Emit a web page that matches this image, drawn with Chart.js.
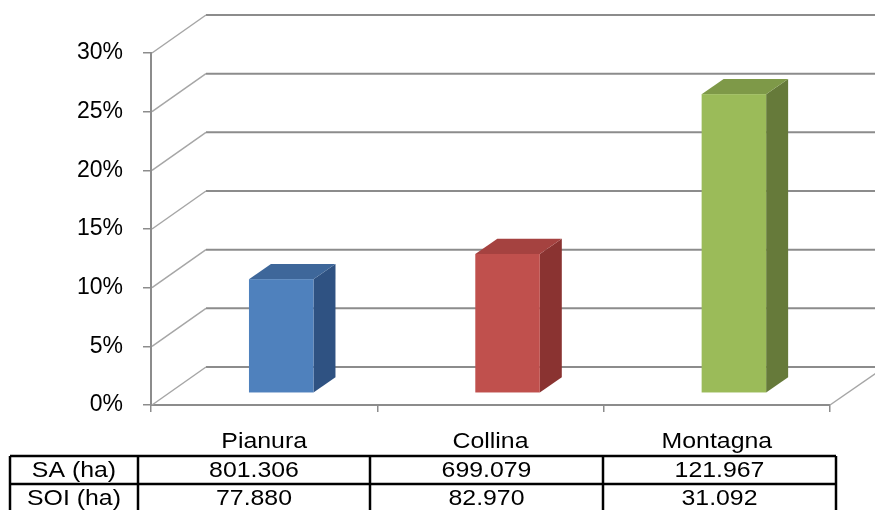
<!DOCTYPE html>
<html>
<head>
<meta charset="utf-8">
<script src="https://cdn.jsdelivr.net/npm/chart.js@4/dist/chart.umd.min.js"></script>
<style>
html,body{margin:0;padding:0;background:#fff;}
#wrap{width:875px;height:510px;position:relative;}
</style>
</head>
<body>
<div id="wrap"><canvas id="c" width="875" height="510"></canvas></div>
<script>
// ---- data ----
const categories = ['Pianura', 'Collina', 'Montagna'];
const percentValues = [9.72, 11.87, 25.49];
const saValues = ['801.306', '699.079', '121.967'];
const soiValues = ['77.880', '82.970', '31.092'];
const rowLabels = ['SA (ha)', 'SOI (ha)'];
const yTicks = [0, 5, 10, 15, 20, 25, 30];

const frontColors = ['#4F81BD', '#C0504D', '#9BBB59'];
const sideColors  = ['#2F5282', '#8A3331', '#667A3A'];
const topColors   = ['#3E679A', '#A54240', '#7E9948'];

const FONT = 'Arial, "Liberation Sans", sans-serif';
const GRID = '#8c8c8c';
// 3D projection (full depth of the walls, in pixels)
const DEPTH_X = 55, DEPTH_Y = -38;
const BAR_FRONT = 0.31, BAR_BACK = 0.71;
const TEXT_STRETCH = 1.13;

function stretchedText(ctx, text, cx, cy, sx) {
  ctx.save();
  ctx.translate(cx, cy);
  ctx.scale(sx, 1);
  ctx.fillText(text, 0, 0);
  ctx.restore();
}

const threeD = {
  id: 'threeD',
  beforeDatasetsDraw(chart) {
    const ctx = chart.ctx, y = chart.scales.y;
    const L = chart.chartArea.left, R = chart.chartArea.right;
    ctx.save();
    // back wall gridlines
    ctx.strokeStyle = GRID; ctx.lineWidth = 2;
    yTicks.forEach(v => {
      const py = y.getPixelForValue(v);
      ctx.beginPath();
      ctx.moveTo(L + DEPTH_X, py + DEPTH_Y);
      ctx.lineTo(R + DEPTH_X, py + DEPTH_Y);
      ctx.stroke();
    });
    // side wall diagonals
    ctx.strokeStyle = '#a6a6a6'; ctx.lineWidth = 1.5;
    yTicks.forEach(v => {
      const py = y.getPixelForValue(v);
      ctx.beginPath();
      ctx.moveTo(L + 1, py);
      ctx.lineTo(L + DEPTH_X, py + DEPTH_Y);
      ctx.stroke();
    });
    // right floor edge
    const p0 = y.getPixelForValue(0);
    ctx.beginPath();
    ctx.moveTo(R, p0);
    ctx.lineTo(R + DEPTH_X, p0 + DEPTH_Y);
    ctx.stroke();
    ctx.restore();
  },
  afterDatasetsDraw(chart) {
    const ctx = chart.ctx;
    const meta = chart.getDatasetMeta(0);
    const fx = DEPTH_X * BAR_FRONT, fy = DEPTH_Y * BAR_FRONT;
    const dx = DEPTH_X * (BAR_BACK - BAR_FRONT), dy = DEPTH_Y * (BAR_BACK - BAR_FRONT);
    ctx.save();
    meta.data.forEach((el, i) => {
      const p = el.getProps(['x', 'y', 'base', 'width'], true);
      const x0 = p.x - p.width / 2 + fx, x1 = p.x + p.width / 2 + fx;
      const yt = p.y + fy, yb = p.base + fy;
      // side
      ctx.fillStyle = sideColors[i];
      ctx.beginPath();
      ctx.moveTo(x1, yt); ctx.lineTo(x1 + dx, yt + dy); ctx.lineTo(x1 + dx, yb + dy); ctx.lineTo(x1, yb);
      ctx.closePath(); ctx.fill();
      // top
      ctx.fillStyle = topColors[i];
      ctx.beginPath();
      ctx.moveTo(x0, yt); ctx.lineTo(x0 + dx, yt + dy); ctx.lineTo(x1 + dx, yt + dy); ctx.lineTo(x1, yt);
      ctx.closePath(); ctx.fill();
      // front
      ctx.fillStyle = frontColors[i];
      ctx.fillRect(x0, yt, x1 - x0, yb - yt);
    });
    ctx.restore();
  },
  afterDraw(chart) {
    const ctx = chart.ctx;
    const xs = chart.scales.x;
    ctx.save();
    ctx.fillStyle = '#000';
    ctx.font = '22px ' + FONT;
    ctx.textAlign = 'center'; ctx.textBaseline = 'middle';
    // category labels via the x scale
    categories.forEach((c, i) => stretchedText(ctx, c, xs.getPixelForValue(i), 442, TEXT_STRETCH));
    // data table
    const cols = [10, 138, 370, 603, 836];
    const rows = [456, 484, 512];
    ctx.strokeStyle = '#000'; ctx.lineWidth = 2.5;
    rows.forEach(r => { ctx.beginPath(); ctx.moveTo(cols[0], r); ctx.lineTo(cols[4], r); ctx.stroke(); });
    cols.forEach(c => { ctx.beginPath(); ctx.moveTo(c, rows[0]); ctx.lineTo(c, rows[2]); ctx.stroke(); });
    const tableRows = [saValues, soiValues];
    tableRows.forEach((vals, r) => {
      const cy = (rows[r] + rows[r + 1]) / 2 + 1;
      stretchedText(ctx, rowLabels[r], (cols[0] + cols[1]) / 2, cy, TEXT_STRETCH);
      vals.forEach((v, c) => stretchedText(ctx, v, (cols[c + 1] + cols[c + 2]) / 2, cy, TEXT_STRETCH));
    });
    ctx.restore();
  }
};

new Chart(document.getElementById('c'), {
  type: 'bar',
  data: {
    labels: categories,
    datasets: [{
      data: percentValues,
      backgroundColor: 'rgba(0,0,0,0)',
      borderWidth: 0,
      categoryPercentage: 1,
      barPercentage: 0.285
    }]
  },
  options: {
    responsive: false,
    animation: false,
    events: [],
    layout: { padding: { top: 53, right: 45, bottom: 0, left: 0 } },
    plugins: { legend: { display: false }, tooltip: { enabled: false } },
    scales: {
      x: {
        afterFit(s) { s.height = 105; },
        grid: { drawOnChartArea: false, drawTicks: true, tickLength: 7, color: GRID, lineWidth: 1.5, offset: true },
        border: { display: true, color: GRID, width: 2 },
        ticks: { display: false }
      },
      y: {
        min: 0, max: 30,
        afterFit(s) { s.width = 151; },
        grid: { drawOnChartArea: false, drawTicks: true, tickLength: 8, color: GRID, lineWidth: 1.5 },
        border: { display: true, color: GRID, width: 2 },
        ticks: {
          stepSize: 5, color: '#000', padding: 20,
          font: { size: 23, family: FONT },
          callback: v => v + '%'
        }
      }
    }
  },
  plugins: [threeD]
});
</script>
</body>
</html>
